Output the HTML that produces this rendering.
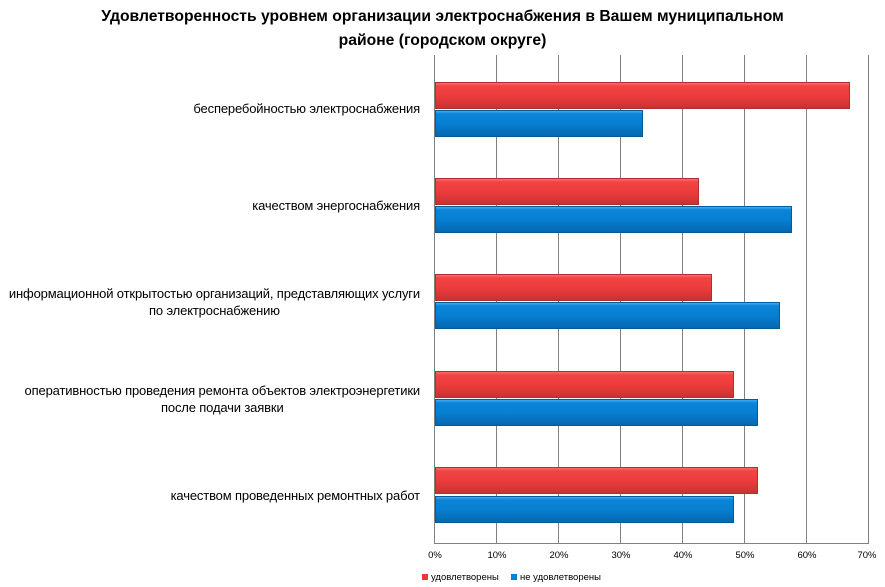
<!DOCTYPE html>
<html><head><meta charset="utf-8"><style>
body{margin:0;width:885px;height:587px;background:#fff;position:relative;overflow:hidden;font-family:"Liberation Sans","DejaVu Sans",sans-serif;color:#000}
.t{position:absolute;left:0;width:885px;text-align:center;top:5px;font-weight:bold;font-size:15.7px;line-height:24px;letter-spacing:0px}
.g{position:absolute;top:55px;height:488px;width:1px;background:#808080}
.r,.b{position:absolute;left:435px;height:27px}
.r{background:linear-gradient(#ff6a6a 0,#f04444 3px,#ee3c3c 50%,#c83232 100%);border:1px solid #b03030;box-sizing:border-box}
.b{background:linear-gradient(#40aaf0 0,#0a84d8 3px,#0880d2 50%,#0468b0 100%);border:1px solid #055a98;box-sizing:border-box}
.c{position:absolute;right:465px;text-align:center;font-size:13px;line-height:17px;letter-spacing:-0.15px;white-space:nowrap}
.x{position:absolute;top:550px;font-size:9.5px;width:40px;margin-left:-20px;text-align:center}
.lg{position:absolute;top:572px;font-size:9.5px}
.lg i{display:inline-block;width:6px;height:6px;margin-right:3px;vertical-align:0}
</style></head><body>
<div class="t">Удовлетворенность уровнем организации электроснабжения в Вашем муниципальном<br>районе (городском округе)</div>
<div class="g" style="left:434px"></div><div class="g" style="left:496px"></div><div class="g" style="left:558px"></div><div class="g" style="left:620px"></div><div class="g" style="left:682px"></div><div class="g" style="left:744px"></div><div class="g" style="left:806px"></div><div class="g" style="left:868px"></div>
<div style="position:absolute;left:434px;top:543px;width:435px;height:1px;background:#808080"></div>
<div class="r" style="top:82px;width:415px"></div><div class="b" style="top:110px;width:208px"></div>
<div class="r" style="top:178px;width:264px"></div><div class="b" style="top:206px;width:357px"></div>
<div class="r" style="top:274px;width:277px"></div><div class="b" style="top:302px;width:345px"></div>
<div class="r" style="top:371px;width:299px"></div><div class="b" style="top:399px;width:323px"></div>
<div class="r" style="top:467px;width:323px"></div><div class="b" style="top:496px;width:299px"></div>
<div class="c" style="top:100px">бесперебойностью электроснабжения</div>
<div class="c" style="top:197px">качеством энергоснабжения</div>
<div class="c" style="top:285px">информационной открытостью организаций, представляющих услуги<br>по электроснабжению</div>
<div class="c" style="top:382px">оперативностью проведения ремонта объектов электроэнергетики<br>после подачи заявки</div>
<div class="c" style="top:487px">качеством проведенных ремонтных работ</div>
<div class="x" style="left:435px">0%</div><div class="x" style="left:497px">10%</div><div class="x" style="left:559px">20%</div><div class="x" style="left:621px">30%</div><div class="x" style="left:683px">40%</div><div class="x" style="left:745px">50%</div><div class="x" style="left:807px">60%</div><div class="x" style="left:867px">70%</div>
<div class="lg" style="left:422px"><i style="background:#e83838"></i>удовлетворены</div>
<div class="lg" style="left:511px"><i style="background:#0a80d0"></i>не удовлетворены</div>
</body></html>
